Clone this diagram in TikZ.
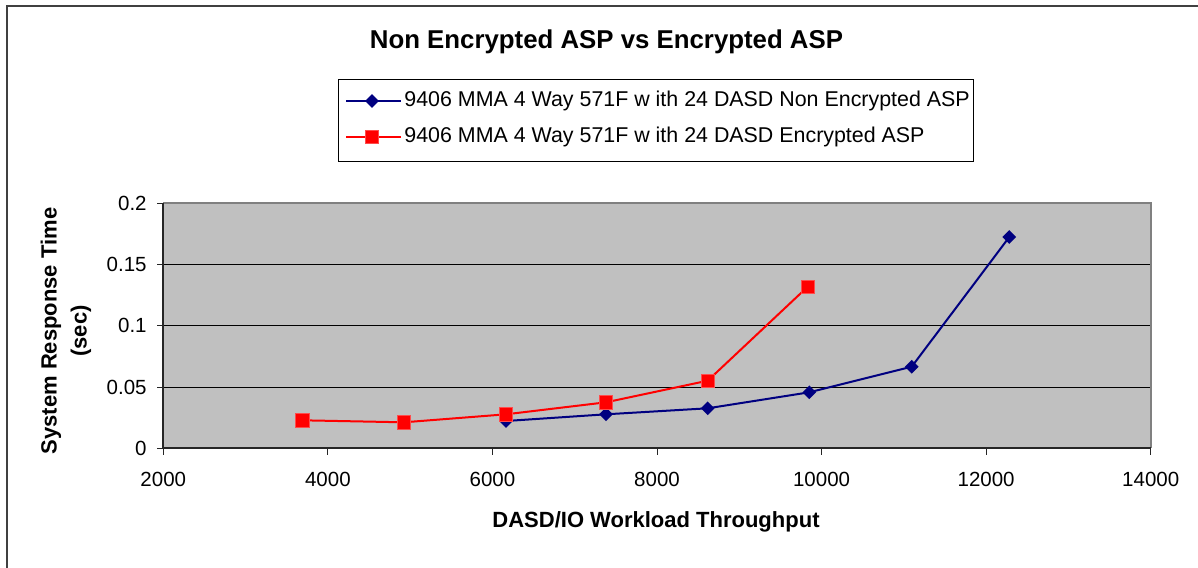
\documentclass[tikz,border=0pt]{standalone}
\usepackage{fontspec}
\setmainfont{Liberation Sans}
\usetikzlibrary{shapes.geometric}
\definecolor{navyblue}{RGB}{0,0,128}
\definecolor{plotred}{RGB}{255,0,0}
\definecolor{plotgray}{RGB}{192,192,192}
\definecolor{framegray}{RGB}{64,64,64}
\definecolor{bordergray}{RGB}{128,128,128}
\tikzset{
  blueline/.style={draw=navyblue, line width=1pt},
  redline/.style={draw=plotred, line width=1pt},
  bmark/.style={diamond, fill=navyblue, inner sep=0pt, minimum width=7pt, minimum height=7pt},
  rmark/.style={rectangle, fill=plotred, draw=plotred!70!white, line width=0.3pt, inner sep=0pt, minimum size=6.6pt},
  ticklbl/.style={inner sep=0pt, font=\fontsize{10.25}{12}\selectfont},
  axtitle/.style={inner sep=0pt, font=\fontsize{11}{15}\selectfont\bfseries},
  legtext/.style={inner sep=0pt, anchor=west, font=\fontsize{10.7}{12}\selectfont},
  gridline/.style={draw=black, line width=0.5pt},
  tickline/.style={draw=black!85, line width=0.5pt}
}
\begin{document}
\begin{tikzpicture}[x=0.5pt,y=-0.5pt]
\useasboundingbox (0,0) rectangle (1198,567);
\fill[white] (0,0) rectangle (1198,567);
% outer frame
\draw[framegray, line width=1pt] (7,570) -- (7,6) -- (1200,6);
% title
\node[inner sep=0pt, font=\fontsize{12.9}{15}\selectfont\bfseries] (title) at (606.5,42) {Non Encrypted ASP vs Encrypted ASP};
% legend
\node[draw=black, line width=0.5pt, minimum width=317.5pt, minimum height=40.5pt, inner sep=0pt, anchor=north west] (legend) at (338,79.5) {};
\coordinate (lb1) at (346,101);
\coordinate (lb2) at (401,101);
\coordinate (lr1) at (346,137);
\coordinate (lr2) at (401,137);
\draw[blueline] (lb1) -- (lb2);
\draw[redline] (lr1) -- (lr2);
\node[bmark] (lbm) at (372,101) {};
\node[rmark] (lrm) at (372,137) {};
\node[legtext] (lbt) at (404,101) {9406 MMA 4 Way 571F w ith 24 DASD Non Encrypted ASP};
\node[legtext] (lrt) at (404,137) {9406 MMA 4 Way 571F w ith 24 DASD Encrypted ASP};
% plot area
\fill[plotgray] (163.3,203.3) rectangle (1150.7,448.3);
\foreach \yy in {264.55,325.8,387.05} {\draw[gridline] (163.3,\yy) -- (1150.7,\yy);}
\draw[bordergray, line width=1pt] (163.3,203.3) -- (1150.7,203.3) -- (1150.7,448.3);
\draw[black!85, line width=1pt] (163.3,203.3) -- (163.3,448.3) -- (1150.7,448.3);
% y ticks and labels
\foreach \yy/\lab [count=\i] in {448.3/0,387.05/0.05,325.8/0.1,264.55/0.15,203.3/0.2} {
  \draw[tickline] (157,\yy) -- (163.3,\yy);
  \node[ticklbl, anchor=east] (ylab\i) at (147,\yy) {\lab};
}
% x ticks and labels
\foreach \xx/\lab [count=\i] in {163.3/2000,327.87/4000,492.44/6000,657.0/8000,821.57/10000,986.14/12000,1150.7/14000} {
  \draw[tickline] (\xx,448.3) -- (\xx,455);
  \node[ticklbl] (xlab\i) at (\xx,479) {\lab};
}
% axis titles
\node[axtitle] (xtitle) at (656,522) {DASD/IO Workload Throughput};
\node[axtitle, rotate=90, align=center] (ytitle) at (66,331) {System Response Time\\(sec)};
% data: non encrypted (blue)
\coordinate (b1) at (506,421);
\coordinate (b2) at (606,414.3);
\coordinate (b3) at (707.7,408.3);
\coordinate (b4) at (809.3,392.3);
\coordinate (b5) at (911.7,366.7);
\coordinate (b6) at (1009.3,237);
\draw[blueline] (b1) -- (b2) -- (b3) -- (b4) -- (b5) -- (b6);
\foreach \p in {1,...,6} {\node[bmark] (bm\p) at (b\p) {};}
% data: encrypted (red)
\coordinate (r1) at (302.3,420.3);
\coordinate (r2) at (404,422.3);
\coordinate (r3) at (506,414.3);
\coordinate (r4) at (606,402.3);
\coordinate (r5) at (707.7,380.7);
\coordinate (r6) at (807.7,286.7);
\draw[redline] (r1) -- (r2) -- (r3) -- (r4) -- (r5) -- (r6);
\foreach \p in {1,...,6} {\node[rmark] (rm\p) at (r\p) {};}
\end{tikzpicture}
\end{document}
